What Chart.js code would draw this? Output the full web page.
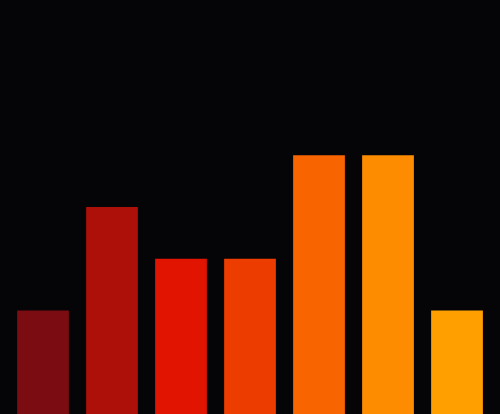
<!DOCTYPE html>
<html>
<head>
<meta charset="utf-8">
<script src="https://cdn.jsdelivr.net/npm/chart.js@4"></script>
<style>
  html, body { margin: 0; padding: 0; background: #050407; }
  #chart { display: block; }
</style>
</head>
<body>
<canvas id="chart" width="500" height="414"></canvas>
<script>
const categories = ["A", "B", "C", "D", "E", "F", "G"];
const values = [2, 4, 3, 3, 5, 5, 2];
const barColors = ["#7b0d12", "#ac1008", "#e01400", "#ec3c00", "#f86400", "#fe8c00", "#ffa000"];

const ctx = document.getElementById("chart").getContext("2d");
const chart = new Chart(ctx, {
  type: "bar",
  data: {
    labels: categories,
    datasets: [
      {
        data: values,
        backgroundColor: barColors,
        borderWidth: 0,
        categoryPercentage: 0.75,
        barPercentage: 1
      }
    ]
  },
  options: {
    responsive: false,
    animation: false,
    devicePixelRatio: 1,
    layout: { padding: { left: 8.5, right: 8.5, top: 0, bottom: 0 } },
    plugins: { legend: { display: false }, tooltip: { enabled: false } },
    scales: {
      x: { display: false },
      y: { display: false, min: 0, max: 8 }
    }
  }
});
</script>
</body>
</html>
